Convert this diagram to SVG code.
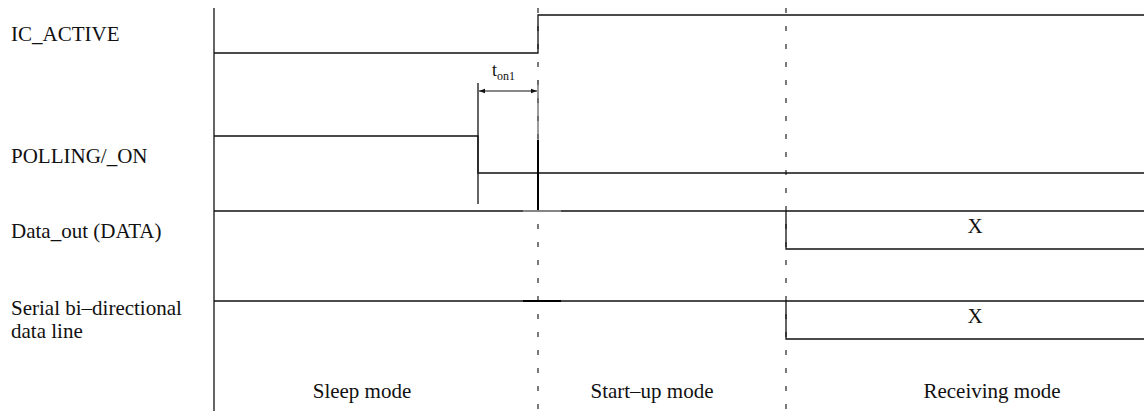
<svg xmlns="http://www.w3.org/2000/svg" width="1144" height="411" viewBox="0 0 1144 411">
<style>
text{font-family:'Liberation Serif','Times New Roman',serif;fill:#111;}
.lbl{font-size:21px;}
.sig{stroke:#111;stroke-width:1.3;fill:none;}
.dash{stroke:#333;stroke-width:1.3;stroke-dasharray:5 13;fill:none;}
</style>
<defs>
<marker id="ah" viewBox="0 0 6 6" refX="6" refY="3" markerWidth="6" markerHeight="6" orient="auto-start-reverse" markerUnits="userSpaceOnUse">
<path d="M0,0.8 L6,3 L0,5.2 Z" fill="#111"/>
</marker>
</defs>
<rect width="1144" height="411" fill="#fff"/>
<g id="labels">
<text class="lbl" x="11" y="41">IC_ACTIVE</text>
<text class="lbl" x="11" y="163">POLLING/_ON</text>
<text class="lbl" x="11" y="238">Data_out (DATA)</text>
<text class="lbl" x="11" y="315">Serial bi–directional</text>
<text class="lbl" x="11" y="338">data line</text>
</g>
<g id="connectors">
<line class="sig" x1="214" y1="8" x2="214" y2="411"/>
<line class="dash" x1="538" y1="8" x2="538" y2="411"/>
<line class="dash" x1="786" y1="8" x2="786" y2="411"/>
</g>
<g id="ic_active">
<polyline class="sig" points="214,53 538,53 538,15 1144,15"/>
</g>
<g id="polling_on">
<polyline class="sig" points="214,136 478,136 478,173 1144,173"/>
</g>
<g id="ton1">
<line class="sig" x1="478" y1="83" x2="478" y2="204"/>
<line x1="538" y1="80" x2="538" y2="140" stroke="#666" stroke-width="1.3"/>
<line x1="538" y1="140" x2="538" y2="210" stroke="#000" stroke-width="2"/>
<line x1="479" y1="91" x2="537" y2="91" stroke="#111" stroke-width="1.2" marker-start="url(#ah)" marker-end="url(#ah)"/>
<text x="492" y="76" font-size="18">t<tspan font-size="12" dy="4">on1</tspan></text>
</g>
<g id="data_out">
<line class="sig" x1="214" y1="211" x2="1144" y2="211"/>
<line x1="523" y1="211" x2="561" y2="211" stroke="#999" stroke-width="1.5"/>
<polyline class="sig" points="786,211 786,249 1144,249"/>
<text class="lbl" x="975" y="233" text-anchor="middle">X</text>
</g>
<g id="serial_line">
<line class="sig" x1="214" y1="301" x2="1144" y2="301"/>
<line x1="523" y1="301" x2="561" y2="301" stroke="#000" stroke-width="1.8"/>
<polyline class="sig" points="786,301 786,339 1144,339"/>
<text class="lbl" x="975" y="323" text-anchor="middle">X</text>
</g>
<g id="modes">
<text class="lbl" x="362" y="398" text-anchor="middle">Sleep mode</text>
<text class="lbl" x="652" y="398" text-anchor="middle">Start–up mode</text>
<text class="lbl" x="992" y="398" text-anchor="middle">Receiving mode</text>
</g>
</svg>
